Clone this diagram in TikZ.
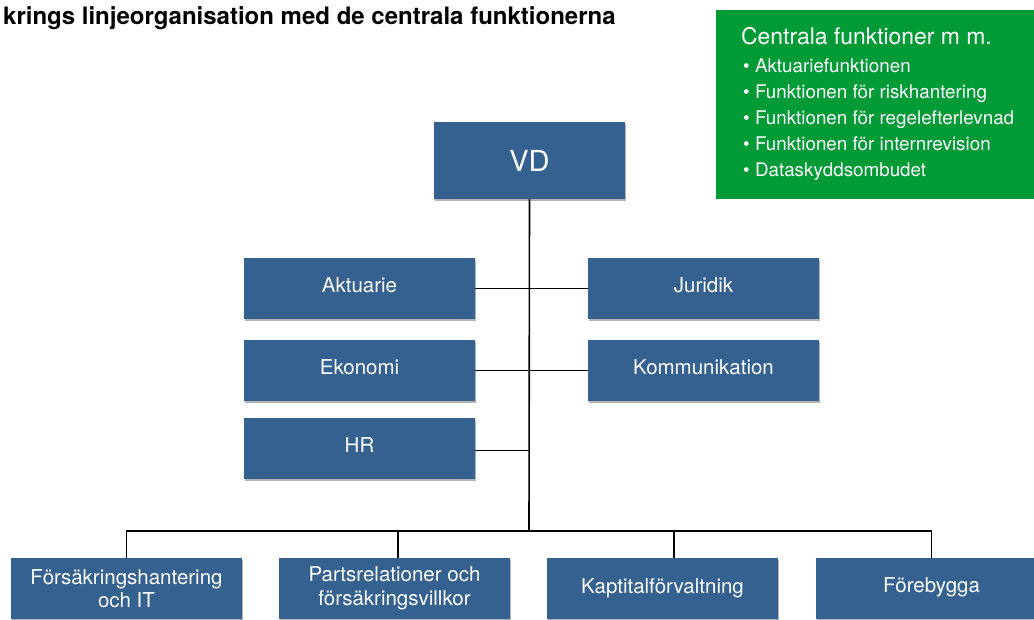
\documentclass[tikz,border=0pt]{standalone}
\usepackage{fontspec}
\setmainfont{TeX Gyre Heros}
\usetikzlibrary{shadows}
\definecolor{orgblue}{HTML}{34618F}
\definecolor{orggreen}{HTML}{009A36}
\begin{document}
\begin{tikzpicture}[x=1pt,y=-1pt,
        unit/.style={fill=orgblue,text=white,minimum width=231pt,minimum height=61pt,inner sep=0pt,
            align=center,font=\fontsize{20.5}{23.5}\selectfont,
            drop shadow={shadow xshift=1pt,shadow yshift=-2pt,opacity=0.3,fill=black}},
        oneline/.style={unit,text depth=6pt},
        item/.style={anchor=base west,inner sep=0pt,text=white,font=\fontsize{18.8}{22}\selectfont},
        link/.style={line width=1.6pt}]
        \useasboundingbox (0,0) rectangle (1034,619);
        % title, cut at the left as in the source
        \node [anchor=base west,inner sep=0pt,font=\fontsize{24}{28}\selectfont\bfseries] (title) at (3,24) {krings linjeorganisation med de centrala funktionerna};
        % central functions
        \node [fill=orggreen,anchor=north west,minimum width=318pt,minimum height=189pt] (cf) at (716,10) {};
        \node [item,font=\fontsize{22.9}{26}\selectfont] (cftitle) at (741,44.5) {Centrala funktioner m m.};
        \foreach \txt [count=\i] in {Aktuariefunktionen,Funktionen för riskhantering,Funktionen för regelefterlevnad,Funktionen för internrevision,Dataskyddsombudet}
            \node [item] (cf\i) at (743,45.8+26.2*\i) {• \txt};
        % management
        \node [unit,minimum width=191pt,minimum height=77pt,font=\fontsize{29}{34}\selectfont] (vd) at (529.5,160.5) {VD};
        \node [oneline] (akt) at (359.5,288.5) {Aktuarie};
        \node [oneline] (jur) at (703.5,288.5) {Juridik};
        \node [oneline] (eko) at (359.5,370.5) {Ekonomi};
        \node [oneline] (kom) at (703.5,370.5) {Kommunikation};
        \node [oneline] (hr) at (359.5,448.5) {HR};
        % departments
        \node [unit] (fh) at (126.5,588.5) {Försäkringshantering\\och IT};
        \node [unit] (pr) at (394.5,588.5) {Partsrelationer och\\försäkringsvillkor};
        \node [oneline] (kf) at (662.5,588.5) {Kaptitalförvaltning};
        \node [oneline] (fb) at (931.5,588.5) {Förebygga};
        \coordinate (bus) at (529,531);
        \draw[link] (vd.south) -- (bus);
        \draw[link] (akt.east) -- (jur.west);
        \draw[link] (eko.east) -- (kom.west);
        \draw[link] ([yshift=-2pt]hr.east) -- ([yshift=-2pt]hr.east -| vd.south);
        \draw[link] (fh.north) |- (bus) -| (fb.north);
        \draw[link] ([xshift=3.5pt]pr.north) -- ([xshift=3.5pt]pr.north |- bus);
        \draw[link] ([xshift=11.5pt]kf.north) -- ([xshift=11.5pt]kf.north |- bus);
    \end{tikzpicture}
\end{document}
